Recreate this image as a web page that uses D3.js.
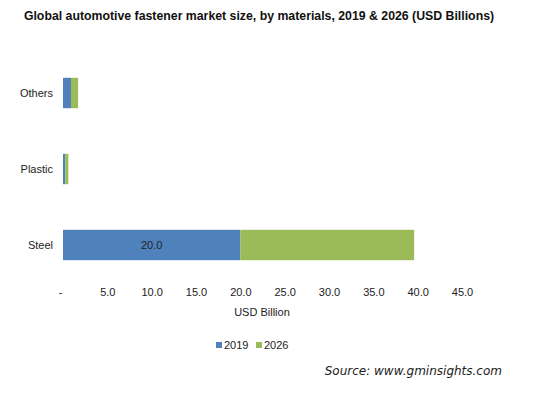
<!DOCTYPE html>
<html>
<head>
<meta charset="utf-8">
<script src="https://cdn.jsdelivr.net/npm/d3@7"></script>
<style>
  body { margin: 0; background: #fff; }
  svg text { font-family: "Liberation Sans", Arial, sans-serif; fill: #222; }
</style>
</head>
<body>
<svg id="chart" width="560" height="395"></svg>
<script>
var categories = ["Others", "Plastic", "Steel"];
var seriesNames = ["2019", "2026"];
var values2019 = [0.9, 0.25, 20.0];
var values2026 = [0.8, 0.35, 19.6];
var tickValues = [0, 5, 10, 15, 20, 25, 30, 35, 40, 45];
var colors = ["#4f81bd", "#9bbb59"];

var svg = d3.select("#chart");

var x = d3.scaleLinear().domain([0, 45]).range([63, 462]);
var y = d3.scaleBand().domain(categories).range([55, 283])
    .paddingInner(0.6).paddingOuter(0.3);
var color = d3.scaleOrdinal().domain(seriesNames).range(colors);

// title
svg.append("text")
    .attr("x", 259).attr("y", 20)
    .attr("text-anchor", "middle")
    .style("font-size", "12.3px")
    .style("font-weight", "bold")
    .style("fill", "#111")
    .text("Global automotive fastener market size, by materials, 2019 & 2026 (USD Billions)");

var rows = categories.map(function (c, i) {
    return { cat: c, "2019": values2019[i], "2026": values2026[i] };
});
var stacked = d3.stack().keys(seriesNames)(rows);

svg.append("g").selectAll("g")
    .data(stacked)
    .join("g")
    .attr("fill", function (d) { return color(d.key); })
    .selectAll("rect")
    .data(function (d) { return d; })
    .join("rect")
    .attr("x", function (d) { return x(d[0]); })
    .attr("y", function (d) { return y(d.data.cat); })
    .attr("width", function (d) { return x(d[1]) - x(d[0]); })
    .attr("height", y.bandwidth());

// data label on steel 2019
svg.append("text")
    .attr("x", (x(0) + x(values2019[2])) / 2)
    .attr("y", y("Steel") + y.bandwidth() / 2 + 4)
    .attr("text-anchor", "middle")
    .style("font-size", "11px")
    .text(values2019[2].toFixed(1));

// y axis labels
var yAxis = d3.axisLeft(y).tickSize(0).tickPadding(10);
var gy = svg.append("g").attr("transform", "translate(63,0)").call(yAxis);
gy.select(".domain").remove();
gy.selectAll("text").style("font-size", "11px").style("font-family", "Liberation Sans, Arial, sans-serif").style("fill", "#222");

// x axis
var xAxis = d3.axisBottom(x).tickValues(tickValues).tickSize(0).tickPadding(0)
    .tickFormat(function (d) { return d === 0 ? "-" : d.toFixed(1); });
var gx = svg.append("g").attr("transform", "translate(0,288)").call(xAxis);
gx.select(".domain").remove();
gx.selectAll("text").style("font-size", "11px").style("font-family", "Liberation Sans, Arial, sans-serif").style("fill", "#222");
gx.selectAll(".tick").filter(function (d) { return d === 0; }).select("text").attr("dx", "-3");

svg.append("text")
    .attr("x", 262).attr("y", 316)
    .attr("text-anchor", "middle")
    .style("font-size", "11px")
    .text("USD Billion");

// legend
var legend = svg.append("g").attr("transform", "translate(216,341)");
var li = legend.selectAll("g").data(seriesNames).join("g")
    .attr("transform", function (d, i) { return "translate(" + (i * 40) + ",0)"; });
li.append("rect").attr("width", 6).attr("height", 6).attr("y", 1)
    .attr("fill", function (d) { return color(d); });
li.append("text").attr("x", 8).attr("y", 8)
    .style("font-size", "11px")
    .text(function (d) { return d; });

// source
svg.append("text")
    .attr("x", 502).attr("y", 375)
    .attr("text-anchor", "end")
    .style("font-family", "DejaVu Sans, Verdana, sans-serif")
    .style("font-style", "italic")
    .style("font-size", "12px")
    .text("Source: www.gminsights.com");
</script>
</body>
</html>
